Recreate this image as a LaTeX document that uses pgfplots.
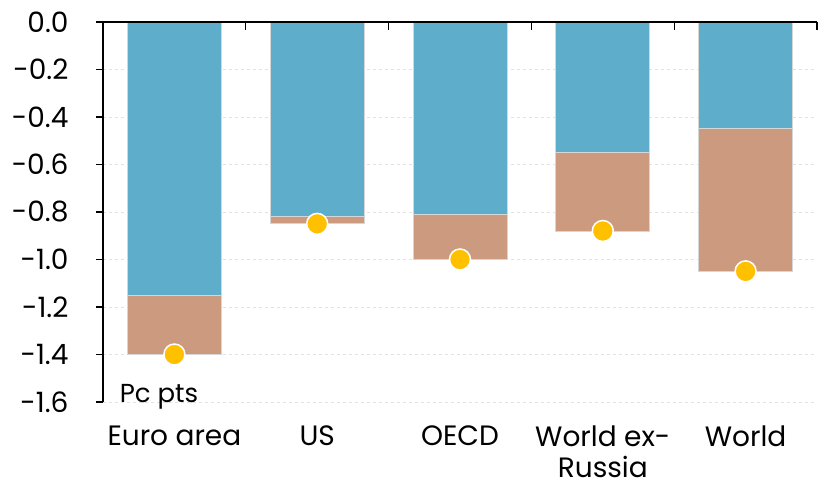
\documentclass[border=0pt]{standalone}
\usepackage{pgfplots}
\pgfplotsset{compat=1.18}
\usepackage{fontspec}
\setmainfont{Poppins}
\definecolor{barblue}{HTML}{5EAECB}
\definecolor{bartan}{HTML}{CC9A7E}
\definecolor{dotgold}{HTML}{FFC000}
\definecolor{edgegray}{HTML}{D6D6D6}
\definecolor{gridgray}{HTML}{E2E2E2}

% Contribution to the change, by region (percentage points)
\pgfplotstableread{
x  first  total
0  -1.15  -1.40
1  -0.82  -0.85
2  -0.81  -1.00
3  -0.55  -0.88
4  -0.45  -1.05
}\datatable

\begin{document}
\begin{tikzpicture}
\begin{axis}[
  scale only axis, width=714pt, height=380pt,
  xmin=-0.5, xmax=4.5, ymin=-1.6, ymax=0,
  axis line style={draw=none},
  xtick={0,1,2,3,4},
  xticklabels={Euro area, US, OECD, {World ex-\\Russia}, World},
  xticklabel style={align=center, font=\fontsize{28}{31}\selectfont, yshift=-13pt},
  xtick style={draw=none},
  ytick={-1.6,-1.4,-1.2,-1.0,-0.8,-0.6,-0.4,-0.2,0},
  ytick pos=left,
  tick align=outside,
  major tick length=7pt,
  ytick style={black, line width=1.2pt},
  yticklabel style={font=\fontsize{28}{30}\selectfont, xshift=-24pt,
    /pgf/number format/.cd, fixed, fixed zerofill, precision=1, assume math mode=true},
  ymajorgrids,
  grid style={gridgray, dashed, line width=0.6pt},
  clip=false,
]
% full-height bars, then the upper component on top of them
\addplot[ybar, bar width=94pt, bar shift=0pt, fill=bartan, draw=edgegray, line width=1pt]
  table[x=x, y=total] {\datatable};
\addplot[ybar, bar width=94pt, bar shift=0pt, fill=barblue, draw=edgegray, line width=1pt]
  table[x=x, y=first] {\datatable};
% totals
\addplot[only marks, mark=*, mark size=10.5pt, mark options={fill=dotgold, draw=white, line width=1.5pt}]
  table[x=x, y=total] {\datatable};

% axis lines: zero line with category separators, and the left spine
\draw[black, line width=1.2pt] (axis cs:-0.5,0) -- (axis cs:4.5,0);
\pgfplotsinvokeforeach{0.5,1.5,2.5,3.5,4.5}{
  \draw[black, line width=1.2pt] (axis cs:#1,0) -- ++(0pt,-8pt);
}
\draw[black, line width=1.2pt] (axis cs:-0.5,0) -- (axis cs:-0.5,-1.6);

\node[anchor=base west, inner sep=0pt, font=\fontsize{26}{28}\selectfont] at ([xshift=-2pt,yshift=0pt]axis cs:-0.37,-1.6) {Pc pts};
\end{axis}
\pgfresetboundingbox
\path ([xshift=-103pt,yshift=-86pt]current axis.south west) rectangle ([xshift=11pt,yshift=22pt]current axis.north east);
\end{tikzpicture}
\end{document}
